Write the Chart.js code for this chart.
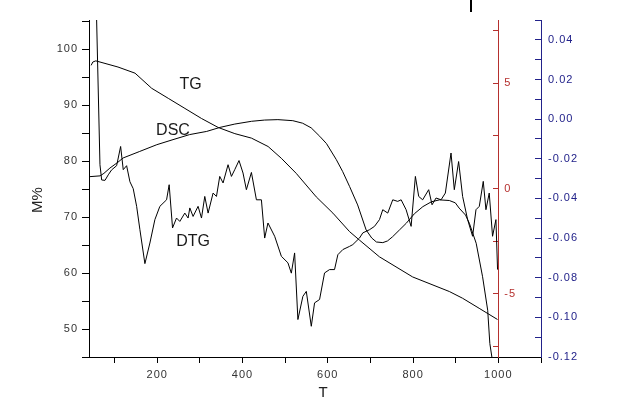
<!DOCTYPE html>
<html>
<head>
<meta charset="utf-8">
<script src="https://cdn.jsdelivr.net/npm/chart.js@4/dist/chart.umd.min.js"></script>
<style>
  body { margin: 0; background: #fff; }
</style>
</head>
<body>
<canvas id="myChart" width="623" height="405"></canvas>
<script>
// TG (mass %, left axis)
const tgT = [45, 49, 56, 108, 148, 187, 226, 265, 304, 343, 382, 421, 460, 491, 526, 573, 612, 651, 674, 721, 799, 885, 916, 955, 998];
const tgM = [97.1, 97.7, 97.9, 96.8, 95.7, 93.0, 91.2, 89.4, 87.6, 86.0, 84.9, 84.1, 82.6, 80.5, 77.8, 73.6, 70.7, 67.4, 65.9, 62.9, 59.3, 56.7, 55.5, 53.7, 51.7];

// DSC (red axis)
const dscT = [40, 66, 75, 89, 108, 120, 159, 199, 237, 276, 316, 347, 382, 421, 452, 483, 518, 541, 561, 581, 597, 620, 635, 651, 670, 690, 703, 714, 729, 740, 752, 768, 784, 803, 823, 843, 862, 885, 899, 908, 923, 932, 948, 963, 975, 980, 986];
const dscV = [0.56, 0.60, 0.72, 0.97, 1.25, 1.45, 1.76, 2.08, 2.32, 2.56, 2.71, 2.90, 3.06, 3.19, 3.25, 3.27, 3.22, 3.10, 2.88, 2.48, 2.13, 1.37, 0.80, 0.10, -0.78, -1.97, -2.35, -2.54, -2.57, -2.49, -2.29, -1.97, -1.65, -1.20, -0.86, -0.63, -0.54, -0.57, -0.68, -0.93, -1.26, -1.65, -2.60, -4.19, -5.78, -7.36, -8.16];

// DTG (blue axis)
const dtgT = [57.6, 65.7, 69.7, 77.5, 85.2, 93.1, 104.8, 114.2, 120.3, 128.2, 136.0, 143.7, 151.7, 159.4, 171.1, 182.8, 194.5, 206.2, 221.9, 228.0, 235.9, 245.3, 253.0, 264.7, 272.4, 276.4, 284.1, 295.8, 303.8, 311.5, 319.3, 331.0, 338.9, 346.6, 354.4, 366.1, 374.0, 381.8, 391.8, 401.2, 409.1, 420.9, 432.6, 444.3, 452.0, 459.7, 475.4, 491.1, 506.5, 514.5, 522.2, 529.9, 541.6, 549.6, 561.3, 569.0, 580.7, 592.4, 604.1, 615.8, 623.6, 635.3, 651.0, 658.7, 674.3, 682.1, 697.8, 709.5, 721.2, 728.9, 740.6, 752.3, 764.0, 772.0, 783.7, 795.4, 805.4, 813.2, 822.5, 836.6, 844.5, 853.9, 865.6, 875.7, 889.0, 896.7, 906.8, 916.2, 927.9, 939.6, 947.5, 955.3, 964.6, 970.9, 978.6, 986.4, 994.3, 998.1];
const dtgV = [0.0525, -0.0230, -0.0307, -0.0309, -0.0281, -0.0256, -0.0235, -0.0138, -0.0255, -0.0235, -0.0316, -0.0351, -0.0440, -0.0558, -0.0729, -0.0625, -0.0507, -0.0440, -0.0407, -0.0331, -0.0549, -0.0499, -0.0516, -0.0474, -0.0499, -0.0448, -0.0491, -0.0440, -0.0499, -0.0390, -0.0474, -0.0373, -0.0390, -0.0289, -0.0322, -0.0230, -0.0289, -0.0255, -0.0209, -0.0272, -0.0356, -0.0269, -0.0407, -0.0407, -0.0600, -0.0524, -0.0591, -0.0692, -0.0725, -0.0777, -0.0675, -0.1011, -0.0894, -0.0869, -0.1045, -0.0927, -0.0910, -0.0776, -0.0759, -0.0759, -0.0684, -0.0658, -0.0642, -0.0633, -0.0600, -0.0574, -0.0558, -0.0541, -0.0507, -0.0457, -0.0474, -0.0407, -0.0415, -0.0407, -0.0457, -0.0541, -0.0289, -0.0390, -0.0407, -0.0356, -0.0432, -0.0398, -0.0407, -0.0373, -0.0171, -0.0356, -0.0214, -0.0390, -0.0507, -0.0591, -0.0457, -0.0440, -0.0314, -0.0457, -0.0373, -0.0591, -0.0507, -0.0759];

// tick labels
const redTicks = [5, 0, -5];

// curve labels (placed in T / M% units)
const curveLabels = ['TG', 'DSC', 'DTG'];
const labelT = [278, 237, 284];
const labelM = [93.7, 85.5, 65.7];

const red = '#b5302e';
const navy = '#22228a';
const font = { family: '"Liberation Sans", Arial, sans-serif', size: 11 };

function pts(xs, ys) {
  return xs.map((v, i) => ({ x: v, y: ys[i] }));
}

const overlay = {
  id: 'overlay',
  beforeDraw(chart) {
    chart.ctx.letterSpacing = '1px';
  },
  afterDraw(chart) {
    const ctx = chart.ctx;
    const sx = chart.scales.x, sy = chart.scales.y, sr = chart.scales.y1;
    ctx.save();
    ctx.letterSpacing = '1px';
    ctx.font = '11px "Liberation Sans", Arial, sans-serif';
    ctx.fillStyle = red;
    ctx.textAlign = 'left';
    ctx.textBaseline = 'middle';
    const rx = sx.getPixelForValue(1000);
    redTicks.forEach(v => ctx.fillText(String(v), rx + 6, sr.getPixelForValue(v)));

    ctx.letterSpacing = '0px';
    ctx.fillStyle = '#1a1a1a';
    ctx.font = '16px "Liberation Sans", Arial, sans-serif';
    ctx.textAlign = 'center';
    curveLabels.forEach((t, i) => ctx.fillText(t, sx.getPixelForValue(labelT[i]), sy.getPixelForValue(labelM[i])));

    // axis titles
    ctx.font = '15px "Liberation Sans", Arial, sans-serif';
    ctx.fillStyle = '#222';
    ctx.fillText('T', 323, 393);
    ctx.save();
    ctx.translate(38, 200);
    ctx.rotate(-Math.PI / 2);
    ctx.fillText('M%', 0, 0);
    ctx.restore();

    // stray mark at top
    ctx.fillStyle = '#000';
    ctx.fillRect(470, 0, 2, 12);
    ctx.restore();
  }
};

new Chart(document.getElementById('myChart'), {
  type: 'line',
  data: {
    datasets: [
      { label: 'TG', data: pts(tgT, tgM), yAxisID: 'y' },
      { label: 'DSC', data: pts(dscT, dscV), yAxisID: 'y1' },
      { label: 'DTG', data: pts(dtgT, dtgV), yAxisID: 'y2' }
    ]
  },
  options: {
    responsive: false,
    animation: false,
    layout: { padding: { top: 20, left: 0, right: 0, bottom: 0 } },
    elements: {
      point: { radius: 0 },
      line: { borderColor: '#000', borderWidth: 1, tension: 0, fill: false }
    },
    plugins: { legend: { display: false }, tooltip: { enabled: false } },
    scales: {
      x: {
        type: 'linear',
        position: 'bottom',
        min: 40, max: 1100,
        afterFit: s => { s.height = 48; },
        grid: { drawOnChartArea: false, tickLength: 6, color: '#000' },
        border: { color: '#000' },
        ticks: {
          stepSize: 100, autoSkip: false, includeBounds: false, maxRotation: 0,
          padding: 5, color: '#333', font: font,
          callback: v => (v % 200 === 0 ? String(v) : '')
        }
      },
      y: {
        position: 'left',
        min: 45, max: 105.2,
        afterFit: s => { s.width = 89; },
        grid: { drawOnChartArea: false, tickLength: 7, color: '#000' },
        border: { color: '#000' },
        ticks: {
          stepSize: 5, autoSkip: false, includeBounds: false,
          padding: 4, color: '#333', font: font,
          callback: v => (v % 10 === 0 ? String(v) : '')
        }
      },
      y1: {
        position: { x: 1000 },
        min: -8, max: 8,
        grid: { drawOnChartArea: false, tickLength: 5, color: red },
        border: { color: red },
        ticks: { stepSize: 2.5, autoSkip: false, includeBounds: false, display: false }
      },
      y2: {
        position: 'right',
        min: -0.12, max: 0.05,
        afterFit: s => { s.width = 82; },
        grid: { drawOnChartArea: false, tickLength: -6, color: navy },
        border: { color: navy },
        ticks: {
          stepSize: 0.01, autoSkip: false, includeBounds: false,
          padding: 13, color: navy, font: font,
          callback: v => {
            const n = Math.round(v * 100);
            return n % 2 === 0 ? (n / 100).toFixed(2).replace('-0.00', '0.00') : '';
          }
        }
      }
    }
  },
  plugins: [overlay]
});
</script>
</body>
</html>
